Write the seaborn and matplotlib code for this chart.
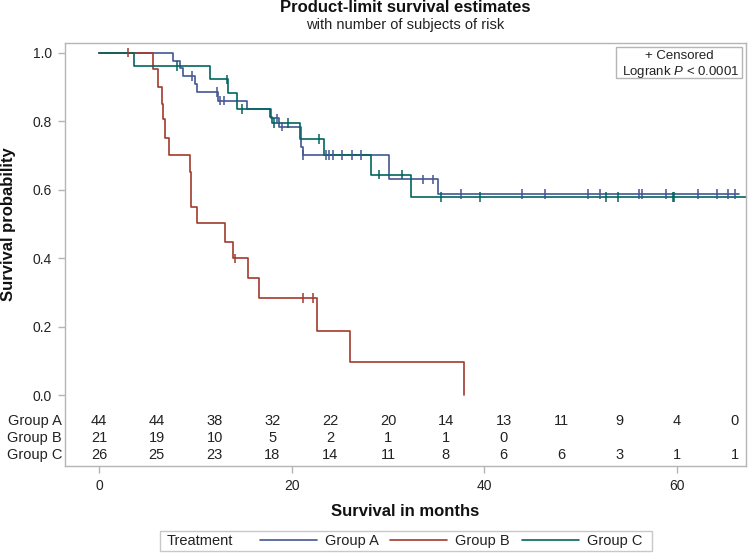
import numpy as np
import pandas as pd
import seaborn as sns
import matplotlib.pyplot as plt
from matplotlib.lines import Line2D
from matplotlib.patches import Rectangle

# ==================== data ====================
groups = ["Group A", "Group B", "Group C"]
colors = ["#445694", "#A23A2E", "#01665E"]

# step points of the Kaplan-Meier curves
months_A = [0, 7.7, 8.4, 8.7, 10.0, 10.2, 12.3, 15.4, 17.9, 18.7, 21.0, 21.2, 30.1, 35.2, 66.4]
surv_A = [1.0, 0.977, 0.955, 0.932, 0.909, 0.886, 0.860, 0.836, 0.808, 0.784, 0.725, 0.701, 0.630, 0.587, 0.587]
months_B = [0, 5.6, 6.1, 6.5, 6.6, 6.85, 7.3, 9.4, 9.6, 10.2, 13.05, 13.95, 15.5, 16.6, 22.6, 26.1, 37.9]
surv_B = [1.0, 0.951, 0.899, 0.850, 0.805, 0.750, 0.701, 0.652, 0.550, 0.502, 0.448, 0.399, 0.341, 0.284, 0.188, 0.0955, 0.0]
months_C = [0, 3.6, 11.5, 13.4, 14.3, 17.8, 18.0, 20.9, 23.4, 28.2, 32.4, 68.0]
surv_C = [1.0, 0.962, 0.922, 0.881, 0.836, 0.811, 0.794, 0.748, 0.701, 0.644, 0.579, 0.579]

# censoring times
cens_A = [9.7, 12.2, 12.6, 13.0, 18.5, 19.0, 21.2, 23.6, 23.9, 24.3, 25.2, 26.3, 27.2, 33.6, 34.7,
          37.6, 43.9, 46.3, 50.8, 52.0, 56.1, 56.4, 58.9, 62.2, 64.1, 65.3, 66.0]
cens_B = [3.0, 14.1, 21.2, 22.2]
cens_C = [8.1, 13.3, 14.8, 18.2, 19.6, 22.8, 29.1, 31.4, 35.5, 39.6, 52.6, 53.9, 59.6, 59.7]

# number at risk table
risk_times = [0, 6, 12, 18, 24, 30, 36, 42, 48, 54, 60, 66]
risk_A = [44, 44, 38, 32, 22, 20, 14, 13, 11, 9, 4, 0]
risk_B = [21, 19, 10, 5, 2, 1, 1, 0]
risk_C = [26, 25, 23, 18, 14, 11, 8, 6, 6, 3, 1, 1]

# ==================== frames ====================
curves = pd.concat([
    pd.DataFrame({"time": t, "surv": s, "group": g})
    for t, s, g in zip([months_A, months_B, months_C], [surv_A, surv_B, surv_C], groups)
])


def surv_at(times, survs, t):
    idx = np.searchsorted(times, t, side="right") - 1
    return np.asarray(survs)[idx]


censored = pd.concat([
    pd.DataFrame({"time": c, "surv": surv_at(t, s, c), "group": g})
    for t, s, c, g in zip([months_A, months_B, months_C], [surv_A, surv_B, surv_C],
                          [cens_A, cens_B, cens_C], groups)
])

# ==================== plot ====================
sns.set_theme(style="white")
plt.rcParams["font.family"] = ["Liberation Sans", "DejaVu Sans"]
plt.rcParams["mathtext.fontset"] = "custom"
plt.rcParams["mathtext.it"] = "Liberation Sans:italic"
plt.rcParams["mathtext.rm"] = "Liberation Sans"

W, H = 748, 553
fig = plt.figure(figsize=(W / 100, H / 100), dpi=100)
ax = fig.add_axes([65 / W, (H - 466) / H, 681 / W, 423 / H])

palette = dict(zip(groups, colors))
sns.lineplot(data=curves, x="time", y="surv", hue="group", palette=palette,
             estimator=None, sort=False, drawstyle="steps-post", linewidth=1.2,
             legend=False, ax=ax)
sns.scatterplot(data=censored, x="time", y="surv", hue="group", palette=palette,
                marker="|", s=48, linewidth=1.1, legend=False, ax=ax, zorder=3)

ax.set_xlim(-3.53, 67.16)
ax.set_ylim(-0.2074, 1.0283)
ax.set_xticks([0, 20, 40, 60])
ax.set_yticks([0.0, 0.2, 0.4, 0.6, 0.8, 1.0])
ax.set_yticklabels(["0.0", "0.2", "0.4", "0.6", "0.8", "1.0"])
ax.set_xlabel("")
ax.set_ylabel("")
gray = "#b5b5b5"
for sp in ax.spines.values():
    sp.set_color(gray)
    sp.set_linewidth(1.0)
ax.tick_params(axis="both", which="major", direction="out", length=5, width=1,
               color=gray, labelsize=10, labelcolor="#222222", pad=4.5)
ax.tick_params(left=True, bottom=True)

# number at risk
ytrans = ax.get_yaxis_transform()
for g, vals, y in zip(groups, [risk_A, risk_B, risk_C], [-0.075, -0.125, -0.175]):
    ax.text(-0.0045, y, g, transform=ytrans, ha="right", va="center", fontsize=10.5, color="#222222")
    for t, v in zip(risk_times, vals):
        ax.text(t, y, str(v), ha="center", va="center", fontsize=10.5, color="#222222")

# censored / logrank box
ax.add_patch(Rectangle((0.809, (466 - 78) / 423), 0.185, 31 / 423, transform=ax.transAxes,
                       facecolor="white", edgecolor=gray, linewidth=1, zorder=4))
ax.text(0.9016, (466 - 56) / 423, "+ Censored", transform=ax.transAxes, ha="center", va="center",
        fontsize=9.5, color="#222222", zorder=5)
ax.text(0.9046, (466 - 71.5) / 423, r"Logrank $\it{P}$ < 0.0001", transform=ax.transAxes,
        ha="center", va="center", fontsize=9.5, color="#222222", zorder=5)

# titles and labels
fig.text(405 / W, 1 - 8 / H, "Product-limit survival estimates", ha="center", va="center",
         fontsize=12, fontweight="bold", color="#111111")
fig.text(405 / W, 1 - 25 / H, "with number of subjects of risk", ha="center", va="center",
         fontsize=10.5, color="#222222")
fig.text(9 / W, 1 - 224 / H, "Survival probability", rotation=90, ha="center", va="center",
         fontsize=12, fontweight="bold", color="#111111")
fig.text(405 / W, 1 - 512 / H, "Survival in months", ha="center", va="center",
         fontsize=12, fontweight="bold", color="#111111")

# legend at the bottom
fig.patches.append(Rectangle((160 / W, 1 - 551 / H), 492 / W, 20 / H, transform=fig.transFigure,
                             facecolor="white", edgecolor="#c8c8c8", linewidth=1))
fig.text(167 / W, 1 - 541 / H, "Treatment", ha="left", va="center", fontsize=10.5, color="#222222")
handles = [Line2D([], [], color=c, linewidth=1.2) for c in colors]
fig.legend(handles, groups, loc="center left", bbox_to_anchor=(260 / W, 1 - 541 / H),
           ncol=3, frameon=False, fontsize=10.5, handlelength=3.9, handletextpad=0.55,
           columnspacing=0.8, borderpad=0, borderaxespad=0, labelcolor="#222222")

plt.savefig("out.png", dpi=100)
